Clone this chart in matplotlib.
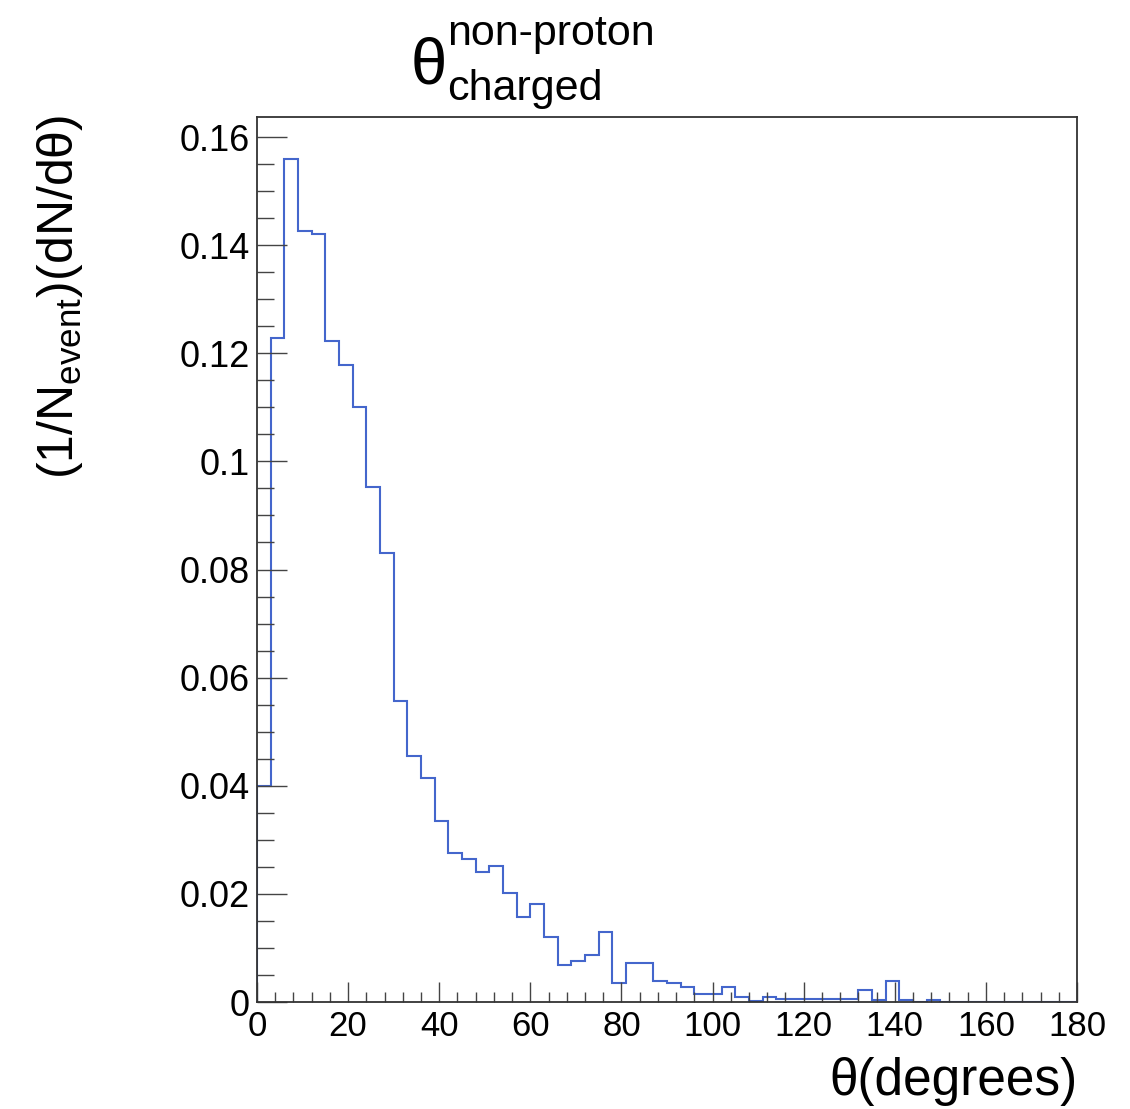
import numpy as np
import matplotlib
matplotlib.use("Agg")
import matplotlib.pyplot as plt
from matplotlib.ticker import MultipleLocator, FuncFormatter

plt.rcParams['font.family'] = ['Liberation Sans', 'DejaVu Sans']
plt.rcParams['mathtext.fontset'] = 'custom'
plt.rcParams['mathtext.rm'] = 'Liberation Sans'
plt.rcParams['mathtext.it'] = 'Liberation Sans'

# 3 degree bins, 0..180
bin_edges = np.arange(0, 181, 3)
dn_dtheta = [
    0.0400, 0.1228, 0.1559, 0.1426, 0.1421, 0.1223, 0.1179, 0.1101, 0.0953, 0.0830,
    0.0557, 0.0455, 0.0414, 0.0334, 0.0275, 0.0264, 0.0240, 0.0251, 0.0202, 0.0157,
    0.0181, 0.0120, 0.0068, 0.0076, 0.0087, 0.0129, 0.0035, 0.0073, 0.0073, 0.0038,
    0.0035, 0.0028, 0.0015, 0.0015, 0.0028, 0.0010, 0.0002, 0.0010, 0.0005, 0.0005,
    0.0005, 0.0005, 0.0005, 0.0005, 0.0022, 0.0003, 0.0038, 0.0003, 0.0000, 0.0003,
    0.0, 0.0, 0.0, 0.0, 0.0, 0.0, 0.0, 0.0, 0.0, 0.0,
]
x_ticks = [0, 20, 40, 60, 80, 100, 120, 140, 160, 180]
y_ticks = [0, 0.02, 0.04, 0.06, 0.08, 0.1, 0.12, 0.14, 0.16]

W, H = 1130, 1109
fig = plt.figure(figsize=(W / 100, H / 100), dpi=100)
ax = fig.add_axes([257 / W, 1 - 1002 / H, (1077 - 257) / W, (1002 - 117) / H])

ax.stairs(dn_dtheta, bin_edges, baseline=0, color='#4466cc', lw=1.5)

ax.set_xlim(0, 180)
ax.set_ylim(0, 0.1637)
ax.set_xticks(x_ticks)
ax.set_yticks(y_ticks)
ax.xaxis.set_minor_locator(MultipleLocator(4))
ax.yaxis.set_minor_locator(MultipleLocator(0.005))
ax.yaxis.set_major_formatter(FuncFormatter(lambda v, p: '%g' % round(v, 3)))

ax.tick_params(axis='both', which='both', direction='in', color='#444444', width=1.0,
               top=False, right=False)
ax.tick_params(axis='y', which='major', length=21.6, labelsize=26, pad=5)
ax.tick_params(axis='y', which='minor', length=12)
ax.tick_params(axis='x', which='major', length=14.4, labelsize=25, pad=6)
ax.tick_params(axis='x', which='minor', length=7.2)
for s in ax.spines.values():
    s.set_color('#333333')
    s.set_linewidth(1.3)

# title built from pieces, ROOT style
fig.text(411 / W, 1 - 83 / H, '\u03b8', fontsize=47, ha='left', va='baseline')
fig.text(447 / W, 1 - 45 / H, 'non-proton', fontsize=31, ha='left', va='baseline')
fig.text(447 / W, 1 - 100 / H, 'charged', fontsize=31, ha='left', va='baseline')

fig.text(60 / W, 1 - 115 / H, r'(1/N$_{\mathrm{event}}$)(dN/d$\theta$)', fontsize=36,
         rotation=90, ha='center', va='top')
fig.text(1077 / W, 1 - 1081 / H, '\u03b8(degrees)', fontsize=37, ha='right', va='center')

fig.savefig('out.png', dpi=100)
